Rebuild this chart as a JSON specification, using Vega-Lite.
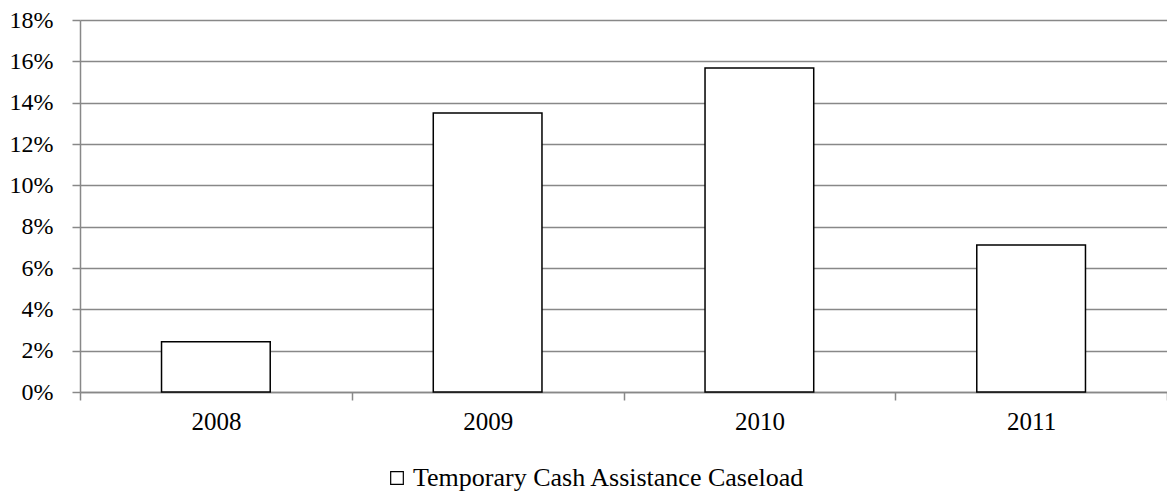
{
  "$schema": "https://vega.github.io/schema/vega-lite/v6.json",
  "width": 1087,
  "height": 372,
  "autosize": {"type": "none"},
  "padding": {"left": 80, "top": 20, "right": 0, "bottom": 103},
  "background": "white",
  "data": {
    "values": [
      {"year": "2008", "value": 0.0243, "series": "Temporary Cash Assistance Caseload"},
      {"year": "2009", "value": 0.135, "series": "Temporary Cash Assistance Caseload"},
      {"year": "2010", "value": 0.1568, "series": "Temporary Cash Assistance Caseload"},
      {"year": "2011", "value": 0.0711, "series": "Temporary Cash Assistance Caseload"}
    ]
  },
  "mark": {"type": "bar", "stroke": "black", "strokeWidth": 1.5, "width": {"band": 0.4}},
  "encoding": {
    "x": {
      "field": "year",
      "type": "nominal",
      "scale": {"paddingInner": 0, "paddingOuter": 0},
      "axis": {
        "title": null,
        "labelAngle": 0,
        "tickBand": "extent",
        "grid": false,
        "domainColor": "#888888",
        "domainWidth": 1.5,
        "tickColor": "#888888",
        "tickWidth": 1.5,
        "tickSize": 8,
        "labelPadding": 9,
        "labelFont": "Liberation Serif",
        "labelFontSize": 25,
        "labelColor": "black"
      }
    },
    "y": {
      "field": "value",
      "type": "quantitative",
      "scale": {"domain": [0, 0.18], "nice": false},
      "axis": {
        "title": null,
        "format": ".0%",
        "values": [0, 0.02, 0.04, 0.06, 0.08, 0.1, 0.12, 0.14, 0.16, 0.18],
        "grid": true,
        "gridColor": "#888888",
        "gridWidth": 1.5,
        "domainColor": "#888888",
        "domainWidth": 1.5,
        "tickColor": "#888888",
        "tickWidth": 1.5,
        "tickSize": 8,
        "labelPadding": 19,
        "labelFont": "Liberation Serif",
        "labelFontSize": 24,
        "labelColor": "black"
      }
    },
    "fill": {
      "field": "series",
      "type": "nominal",
      "scale": {"range": ["white"]},
      "legend": {
        "orient": "none",
        "legendX": 304,
        "legendY": 445,
        "title": null,
        "symbolType": "square",
        "symbolSize": 160,
        "symbolStrokeColor": "black",
        "symbolStrokeWidth": 1.2,
        "labelFont": "Liberation Serif",
        "labelFontSize": 26,
        "labelColor": "black",
        "labelOffset": 3,
        "labelLimit": 0
      }
    }
  },
  "config": {"view": {"stroke": null}}
}
